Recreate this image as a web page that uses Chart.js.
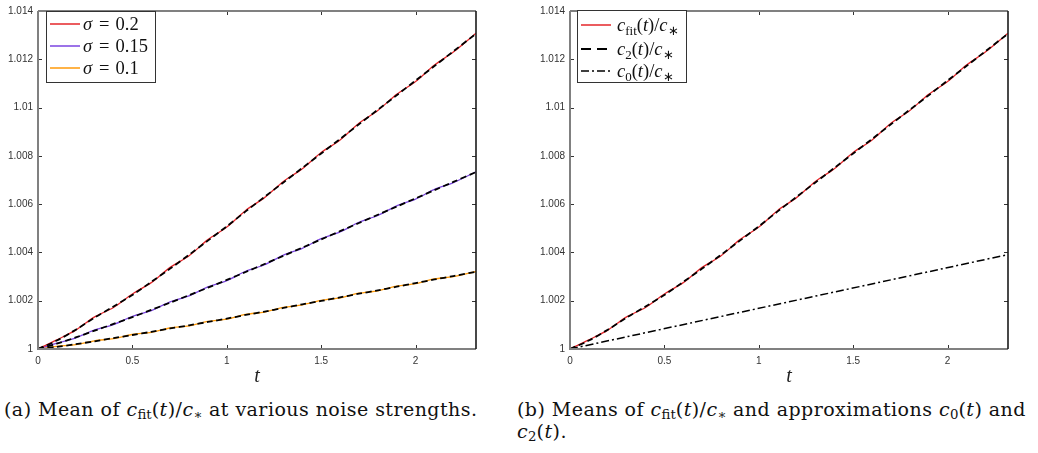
<!DOCTYPE html>
<html>
<head>
<meta charset="utf-8">
<script src="https://cdn.jsdelivr.net/npm/chart.js@4.4.1/dist/chart.umd.min.js"></script>
<style>
  body { margin: 0; background: #fff; width: 1038px; height: 453px; overflow: hidden; position: relative; }
  canvas { position: absolute; top: 0; }
  #chartA { left: 0; }
  #chartB { left: 519px; }
  .cap { position: absolute; font-family: "DejaVu Serif", serif; font-size: 19px; letter-spacing: 0.45px; color: #111; white-space: nowrap; line-height: 22px; }
  .cap sub { font-size: 70%; vertical-align: -0.25em; line-height: 0; letter-spacing: 0; }
</style>
</head>
<body>
<canvas id="chartA" width="519" height="392"></canvas>
<canvas id="chartB" width="519" height="392"></canvas>
<div class="cap" style="left:4px; top:398px">(a) Mean of <i>c</i><sub>fit</sub>(<i>t</i>)/<i>c</i><sub>∗</sub> at various noise strengths.</div>
<div class="cap" style="left:517px; top:398px">(b) Means of <i>c</i><sub>fit</sub>(<i>t</i>)/<i>c</i><sub>∗</sub> and approximations <i>c</i><sub>0</sub>(<i>t</i>) and<br><i>c</i><sub>2</sub>(<i>t</i>).</div>

<script>
// time grid
var T = [0, 0.1, 0.2, 0.3, 0.4, 0.5, 0.6, 0.7, 0.8, 0.9, 1.0, 1.1, 1.2, 1.3, 1.4, 1.5, 1.6, 1.7, 1.8, 1.9, 2.0, 2.1, 2.2, 2.32];

// sigma = 0.2 : measured mean and c2 approximation
var fit02 = [1.00000, 1.00038, 1.00078, 1.00133, 1.00172, 1.00228, 1.00275, 1.00338, 1.00386, 1.00453, 1.00505, 1.00574,
             1.00627, 1.00694, 1.00747, 1.00814, 1.00866, 1.00935, 1.00988, 1.01055, 1.01108, 1.01176, 1.01230, 1.01308];
var c2_02 = [1.00000, 1.00035, 1.00080, 1.00130, 1.00176, 1.00224, 1.00278, 1.00333, 1.00390, 1.00449, 1.00508, 1.00570,
             1.00630, 1.00690, 1.00750, 1.00810, 1.00870, 1.00931, 1.00991, 1.01051, 1.01112, 1.01172, 1.01233, 1.01306];

// sigma = 0.15
var fit015 = [1.00000, 1.00024, 1.00046, 1.00079, 1.00101, 1.00135, 1.00159, 1.00195, 1.00220, 1.00257, 1.00283, 1.00322,
              1.00349, 1.00389, 1.00417, 1.00457, 1.00485, 1.00525, 1.00553, 1.00593, 1.00621, 1.00661, 1.00689, 1.00734];
var c2_015 = [1.00000, 1.00022, 1.00048, 1.00076, 1.00104, 1.00132, 1.00162, 1.00192, 1.00223, 1.00254, 1.00286, 1.00319,
              1.00352, 1.00386, 1.00420, 1.00454, 1.00488, 1.00522, 1.00556, 1.00590, 1.00624, 1.00658, 1.00692, 1.00733];

// sigma = 0.1
var fit01 = [1.00000, 1.00011, 1.00018, 1.00034, 1.00043, 1.00060, 1.00069, 1.00087, 1.00096, 1.00114, 1.00124, 1.00143,
             1.00153, 1.00172, 1.00183, 1.00201, 1.00212, 1.00231, 1.00241, 1.00260, 1.00271, 1.00290, 1.00300, 1.00321];
var c2_01 = [1.00000, 1.00009, 1.00020, 1.00032, 1.00045, 1.00058, 1.00071, 1.00085, 1.00098, 1.00112, 1.00126, 1.00141,
             1.00155, 1.00170, 1.00185, 1.00199, 1.00214, 1.00229, 1.00243, 1.00258, 1.00273, 1.00288, 1.00302, 1.00320];

// leading order approximation c0 (straight line)
var T0 = [0, 2.32];
var c0_02 = [1.00000, 1.00391];

// axis ticks
var xTicks = { min: 0, max: 2.32, step: 0.5 };
var yTicks = { min: 1, max: 1.014, step: 0.002 };

var RED = "#e5262a", PURPLE = "#7b45e0", ORANGE = "#ff9a0a";

function pts(xs, ys) {
  return xs.map(function (x, i) { return { x: x, y: ys[i] }; });
}
function solid(data, color) {
  return { data: data, borderColor: color, borderWidth: 1.3, pointRadius: 0, tension: 0.3, order: 2 };
}
function dashed(data, pattern, width) {
  return { data: data, borderColor: "#000", borderWidth: width, borderDash: pattern, pointRadius: 0, tension: 0.3, order: 1 };
}

function strokeLine(ctx, x1, y1, x2, y2) {
  ctx.beginPath(); ctx.moveTo(x1, y1); ctx.lineTo(x2, y2); ctx.stroke();
}

// text made of italic / roman / subscript pieces, with optional extra gaps
function drawPieces(ctx, pieces, x, y) {
  pieces.forEach(function (p) {
    if (p.gap) { x += p.gap; return; }
    var size = p.sub ? 13 : 18.5;
    ctx.font = (p.i ? "italic " : "") + size + 'px "Liberation Serif", serif';
    ctx.fillText(p.s, x, y + (p.sub ? 4 : 0));
    x += ctx.measureText(p.s).width;
  });
}

// box, inward ticks, axis title and legend in MATLAB style
var framePlugin = {
  id: "frame",
  afterDraw: function (chart) {
    var ctx = chart.ctx, a = chart.chartArea, sx = chart.scales.x, sy = chart.scales.y;
    var opts = chart.options.plugins.frame;
    ctx.save();
    ctx.setLineDash([]);
    ctx.strokeStyle = "#333"; ctx.lineWidth = 1;
    sx.ticks.forEach(function (t) {
      var px = Math.round(sx.getPixelForValue(t.value)) + 0.5;
      strokeLine(ctx, px, a.bottom, px, a.bottom - 4);
      strokeLine(ctx, px, a.top, px, a.top + 4);
    });
    sy.ticks.forEach(function (t) {
      var py = Math.round(sy.getPixelForValue(t.value)) + 0.5;
      strokeLine(ctx, a.left, py, a.left + 4, py);
      strokeLine(ctx, a.right, py, a.right - 4, py);
    });
    ctx.strokeStyle = "#808080"; ctx.lineWidth = 2;
    strokeLine(ctx, a.left, a.top, a.left, a.bottom + 1);
    strokeLine(ctx, a.left - 1, a.bottom, a.right, a.bottom);
    strokeLine(ctx, a.left, a.top, a.right, a.top);
    ctx.strokeStyle = "#1a1a1a"; ctx.lineWidth = 1.6;
    strokeLine(ctx, a.right, a.top, a.right, a.bottom);

    // x axis title
    ctx.fillStyle = "#222";
    ctx.textAlign = "center"; ctx.textBaseline = "middle";
    ctx.font = 'italic 20px "Liberation Serif", serif';
    ctx.fillText("t", (a.left + a.right) / 2, 377);

    // legend
    var lg = opts.legend;
    ctx.fillStyle = "#fff";
    ctx.fillRect(lg.x, lg.y, lg.w, lg.h);
    ctx.strokeStyle = "#333"; ctx.lineWidth = 1;
    ctx.strokeRect(lg.x + 0.5, lg.y + 0.5, lg.w, lg.h);
    ctx.textAlign = "left"; ctx.textBaseline = "alphabetic";
    lg.items.forEach(function (it, k) {
      var cy = lg.rows[k];
      ctx.strokeStyle = it.color; ctx.lineWidth = it.width;
      ctx.setLineDash(it.dash);
      strokeLine(ctx, lg.x + 4, cy, lg.x + 4 + lg.sample, cy);
      ctx.setLineDash([]);
      ctx.fillStyle = "#111";
      drawPieces(ctx, it.text, lg.x + lg.textX, cy + 6);
    });
    ctx.restore();
  }
};

function makeChart(id, datasets, yWidth, padRight, legend) {
  var tickFont = { family: '"Liberation Sans", Arial, sans-serif', size: 10 };
  return new Chart(document.getElementById(id), {
    type: "line",
    data: { datasets: datasets },
    options: {
      responsive: false,
      animation: false,
      layout: { padding: { top: 4, right: padRight, left: 0, bottom: 0 } },
      plugins: { legend: { display: false }, tooltip: { enabled: false }, frame: { legend: legend } },
      scales: {
        x: {
          type: "linear", min: xTicks.min, max: xTicks.max,
          grid: { display: false, drawTicks: false }, border: { display: false },
          ticks: { stepSize: xTicks.step, includeBounds: false, padding: 6, color: "#333", font: tickFont,
                   maxRotation: 0, callback: function (v) { return String(+v.toFixed(2)); } },
          afterFit: function (s) { s.height = 392 - 349; }
        },
        y: {
          type: "linear", min: yTicks.min, max: yTicks.max,
          grid: { display: false, drawTicks: false }, border: { display: false },
          ticks: { stepSize: yTicks.step, includeBounds: false, padding: 5, color: "#333", font: tickFont,
                   callback: function (v) { return String(+v.toFixed(3)); } },
          afterFit: function (s) { s.width = yWidth; }
        }
      }
    },
    plugins: [framePlugin]
  });
}

var sig = function (v) { return [{ s: "σ", i: 1 }, { gap: 7 }, { s: "=" }, { gap: 6 }, { s: v }]; };
var ratio = function (sub) {
  return [{ s: "c", i: 1 }, { s: sub, sub: 1 }, { s: "(" }, { s: "t", i: 1 }, { s: ")" }, { s: "/" }, { s: "c", i: 1 }, { s: "∗", sub: 1 }];
};

makeChart("chartA", [
  dashed(pts(T, c2_02), [6, 3.5], 1.8),
  dashed(pts(T, c2_015), [6, 3.5], 1.8),
  dashed(pts(T, c2_01), [6, 3.5], 1.8),
  solid(pts(T, fit02), RED),
  solid(pts(T, fit015), PURPLE),
  solid(pts(T, fit01), ORANGE)
], 38, 43, {
  x: 46, y: 11, w: 109, h: 71, sample: 30, textX: 37, rows: [24, 46, 68],
  items: [
    { color: RED, width: 1.5, dash: [], text: sig("0.2") },
    { color: PURPLE, width: 1.5, dash: [], text: sig("0.15") },
    { color: ORANGE, width: 1.5, dash: [], text: sig("0.1") }
  ]
});

makeChart("chartB", [
  dashed(pts(T, c2_02), [6, 3.5], 1.8),
  dashed(pts(T0, c0_02), [8, 3, 2, 3], 1.5),
  solid(pts(T, fit02), RED)
], 51, 30, {
  x: 58, y: 10, w: 109, h: 72, sample: 30, textX: 40, rows: [25, 49, 71],
  items: [
    { color: RED, width: 1.5, dash: [], text: ratio("fit") },
    { color: "#000", width: 1.8, dash: [10, 6], text: ratio("2") },
    { color: "#000", width: 1.5, dash: [8, 3, 2, 3], text: ratio("0") }
  ]
});
</script>
</body>
</html>
